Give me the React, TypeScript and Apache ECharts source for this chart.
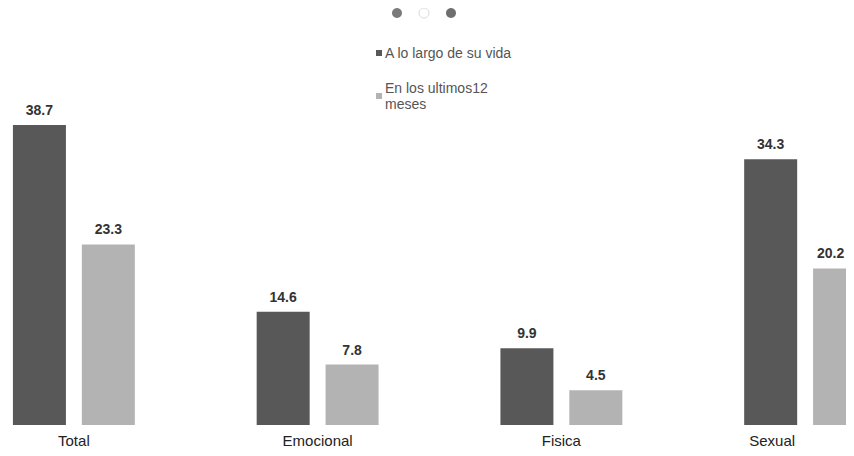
import React, { useEffect, useRef } from "react";
import * as echarts from "echarts";

const categories = ["Total", "Emocional", "Fisica", "Sexual"];
const seriesNames = ["A lo largo de su vida", "En los ultimos12\nmeses"];
const lifetime = [38.7, 14.6, 9.9, 34.3];
const last12 = [23.3, 7.8, 4.5, 20.2];

export default function App() {
  const ref = useRef<HTMLDivElement>(null);
  useEffect(() => {
    if (!ref.current) return;
    const chart = echarts.init(ref.current, undefined, { renderer: "svg" });
    const font = "Liberation Sans, Arial, sans-serif";
    const lastIdx = categories.length - 1;
    chart.setOption({
      animation: false,
      backgroundColor: "#ffffff",
      textStyle: { fontFamily: font },
      graphic: [
        { type: "circle", shape: { cx: 397, cy: 13, r: 5 }, style: { fill: "#7a7a7a" } },
        { type: "circle", shape: { cx: 424, cy: 13, r: 5 }, style: { fill: "#ffffff", stroke: "#d8d8d8", lineWidth: 1 } },
        { type: "circle", shape: { cx: 451, cy: 13, r: 5 }, style: { fill: "#6e6e6e" } },
      ],
      legend: {
        orient: "vertical",
        left: 371,
        top: 40,
        itemWidth: 6,
        itemHeight: 6,
        itemGap: 19,
        icon: "rect",
        textStyle: { fontSize: 14, color: "#555", fontFamily: font, lineHeight: 16, padding: [0, 0, 0, -2] },
        data: seriesNames,
      },
      grid: { left: -48, right: -73, top: 115, bottom: 31, containLabel: false, outerBoundsMode: "none" },
      xAxis: {
        type: "category",
        data: categories.map((c, i) =>
          i === lastIdx ? { value: c, textStyle: { padding: [0, 66, 0, 0] } } : c
        ),
        axisLine: { show: false },
        axisTick: { show: false },
        axisLabel: { fontSize: 15, color: "#222", margin: 8, fontFamily: font },
      },
      yAxis: { type: "value", min: 0, max: 40, show: false, splitLine: { show: false } },
      series: [
        {
          name: seriesNames[0],
          type: "bar",
          data: lifetime,
          barWidth: 53,
          barGap: "30%",
          itemStyle: { color: "#585858" },
          label: { show: true, position: "top", distance: 8, fontSize: 14, fontWeight: "bold", color: "#333", fontFamily: font },
        },
        {
          name: seriesNames[1],
          type: "bar",
          data: last12.map((v, i) =>
            i === lastIdx ? { value: v, label: { offset: [-9, 0] } } : v
          ),
          barWidth: 53,
          barGap: "30%",
          itemStyle: { color: "#b3b3b3" },
          label: { show: true, position: "top", distance: 8, fontSize: 14, fontWeight: "bold", color: "#333", fontFamily: font },
        },
      ],
    });
    return () => chart.dispose();
  }, []);
  return <div ref={ref} style={{ width: 854, height: 456, margin: -8 }} />;
}
